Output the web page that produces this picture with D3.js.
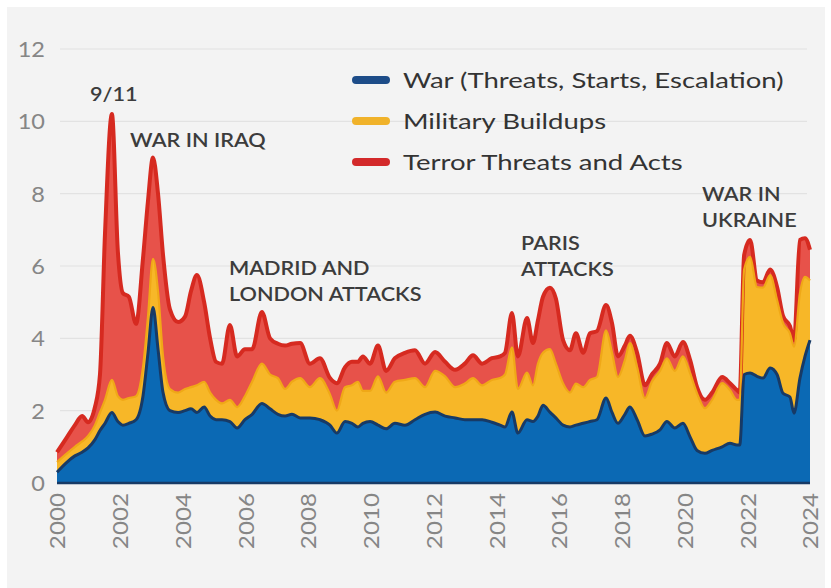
<!DOCTYPE html>
<html>
<head>
<meta charset="utf-8">
<script src="https://cdn.jsdelivr.net/npm/d3@7"></script>
<style>
  html, body { margin: 0; padding: 0; background: #ffffff; }
  svg { display: block; }
</style>
</head>
<body>
<svg id="chart" width="831" height="588"></svg>
<script>
// ---------- DATA ----------
const dates = [
  2000.00, 2000.32, 2000.57, 2000.80, 2000.99, 2001.21, 2001.37, 2001.53, 2001.75, 2001.94,
  2002.10, 2002.29, 2002.52, 2002.74, 2002.90, 2003.06, 2003.22, 2003.38, 2003.60, 2003.86,
  2004.08, 2004.27, 2004.46, 2004.69, 2004.88, 2005.07, 2005.26, 2005.51, 2005.74, 2005.99,
  2006.22, 2006.53, 2006.79, 2007.04, 2007.27, 2007.49, 2007.75, 2008.06, 2008.38, 2008.70,
  2008.92, 2009.18, 2009.40, 2009.59, 2009.75, 2009.98, 2010.23, 2010.49, 2010.77, 2011.09,
  2011.41, 2011.73, 2012.05, 2012.37, 2012.69, 2013.00, 2013.26, 2013.55, 2013.86, 2014.12,
  2014.28, 2014.50, 2014.69, 2014.98, 2015.17, 2015.33, 2015.49, 2015.71, 2015.90, 2016.13,
  2016.35, 2016.54, 2016.77, 2016.99, 2017.21, 2017.50, 2017.69, 2017.88, 2018.10, 2018.26,
  2018.49, 2018.74, 2018.96, 2019.22, 2019.44, 2019.69, 2019.95, 2020.18, 2020.40, 2020.65,
  2020.88, 2021.20, 2021.45, 2021.67, 2021.76, 2021.90, 2022.09, 2022.31, 2022.50, 2022.73,
  2022.95, 2023.14, 2023.36, 2023.49, 2023.68, 2023.84, 2024.00
];
const war = [
  0.30, 0.58, 0.75, 0.85, 0.97, 1.20, 1.45, 1.65, 1.95, 1.70,
  1.60, 1.65, 1.75, 2.40, 3.60, 4.85, 3.70, 2.50, 2.00, 1.95,
  2.00, 2.05, 1.95, 2.10, 1.85, 1.75, 1.75, 1.70, 1.52, 1.75,
  1.90, 2.20, 2.05, 1.90, 1.85, 1.90, 1.80, 1.80, 1.75, 1.60,
  1.38, 1.70, 1.65, 1.55, 1.65, 1.70, 1.60, 1.50, 1.65, 1.60,
  1.75, 1.90, 1.96, 1.85, 1.80, 1.75, 1.75, 1.75, 1.68, 1.60,
  1.55, 1.96, 1.38, 1.75, 1.70, 1.85, 2.15, 1.96, 1.80, 1.60,
  1.55, 1.60, 1.65, 1.70, 1.75, 2.35, 1.95, 1.65, 1.90, 2.10,
  1.75, 1.30, 1.35, 1.47, 1.70, 1.52, 1.65, 1.27, 0.90, 0.82,
  0.90, 1.00, 1.10, 1.05, 1.05, 3.00, 3.04, 2.95, 2.90, 3.18,
  3.00, 2.48, 2.38, 1.93, 2.90, 3.50, 3.95
];
const military = [
  0.28, 0.24, 0.25, 0.30, 0.33, 0.40, 0.50, 0.65, 0.90, 0.70,
  0.70, 0.70, 0.65, 0.80, 1.00, 1.35, 1.60, 1.00, 0.60, 0.55,
  0.60, 0.60, 0.75, 0.70, 0.65, 0.55, 0.45, 0.60, 0.58, 0.65,
  0.90, 1.10, 0.95, 1.00, 0.75, 0.90, 1.10, 0.85, 1.15, 0.85,
  0.62, 0.95, 1.05, 1.25, 0.90, 0.85, 1.35, 1.00, 1.15, 1.25,
  1.15, 0.75, 1.14, 1.10, 0.85, 1.00, 1.15, 0.95, 1.17, 1.30,
  1.45, 1.79, 1.22, 1.30, 1.00, 1.45, 1.45, 1.74, 1.50, 1.15,
  0.95, 1.15, 1.00, 1.15, 1.18, 1.87, 1.65, 1.28, 1.50, 1.77,
  1.45, 1.05, 1.45, 1.63, 1.75, 1.58, 1.85, 1.76, 1.58, 1.25,
  1.40, 1.76, 1.47, 1.25, 1.25, 2.90, 3.21, 2.47, 2.50, 2.57,
  2.06, 1.94, 1.76, 1.84, 2.35, 2.20, 1.65
];
const terror = [
  0.27, 0.45, 0.60, 0.70, 0.38, 0.50, 1.05, 4.60, 7.35, 4.00,
  2.95, 2.80, 2.00, 3.00, 3.20, 2.80, 2.70, 2.80, 2.20, 1.95,
  2.00, 2.65, 3.05, 2.20, 1.50, 1.05, 1.10, 2.07, 1.40, 1.30,
  0.90, 1.43, 1.00, 0.95, 1.20, 1.05, 0.97, 0.65, 0.55, 0.45,
  0.76, 0.55, 0.65, 0.55, 0.95, 0.75, 0.85, 0.60, 0.65, 0.75,
  0.77, 0.65, 0.52, 0.40, 0.48, 0.55, 0.63, 0.60, 0.60, 0.60,
  0.60, 0.95, 0.90, 1.51, 1.17, 1.20, 1.55, 1.70, 1.80, 1.20,
  1.17, 1.39, 0.95, 1.29, 1.27, 0.70, 0.82, 0.57, 0.40, 0.20,
  0.40, 0.35, 0.20, 0.20, 0.42, 0.40, 0.40, 0.37, 0.17, 0.23,
  0.20, 0.17, 0.19, 0.27, 0.20, 0.40, 0.47, 0.18, 0.15, 0.15,
  0.36, 0.20, 0.20, 0.18, 1.47, 1.07, 0.85
];
const seriesKeys = ["war", "military", "terror"];
const seriesNames = ["War (Threats, Starts, Escalation)", "Military Buildups", "Terror Threats and Acts"];
const yearTicks = [2000, 2002, 2004, 2006, 2008, 2010, 2012, 2014, 2016, 2018, 2020, 2022, 2024];
const valueTicks = [0, 2, 4, 6, 8, 10, 12];
const annotationLines = [["9/11"], ["WAR IN IRAQ"], ["MADRID AND", "LONDON ATTACKS"], ["PARIS", "ATTACKS"], ["WAR IN", "UKRAINE"]];
const annotationYears = [2001.05, 2002.33, 2005.48, 2014.79, 2020.56];
const annotationValues = [10.75, 9.48, 5.94, 6.61, 7.99];

// ---------- STYLE ----------
const fills = { war: "#0b69b4", military: "#f7b728", terror: "#e7524a" };
const strokes = { war: "#173a66", military: "#f0a817", terror: "#d62a20" };
const legendColors = { war: "#1d4c88", military: "#f0b22a", terror: "#d3292a" };
const font = "Lato, 'Open Sans', 'DejaVu Sans', sans-serif";

// horizontal widening of text, like the reference's wide lettering
function widen(sel, k) {
  sel.each(function () {
    const w = this.getComputedTextLength();
    d3.select(this).attr("textLength", w * k).attr("lengthAdjust", "spacingAndGlyphs");
  });
}

// ---------- BUILD ----------
const rows = dates.map((d, i) => ({ date: d, war: war[i], military: military[i], terror: terror[i] }));
const svg = d3.select("#chart");

svg.append("rect").attr("x", 7).attr("y", 7).attr("width", 818).attr("height", 581).attr("fill", "#f3f3f3");

const x = d3.scaleLinear().domain([2000, 2024]).range([57, 810]);
const y = d3.scaleLinear().domain([0, 12]).range([483, 49]);

// grid
svg.append("g").selectAll("line").data(valueTicks.filter(v => v > 0)).join("line")
  .attr("x1", x(2000) + 3).attr("x2", x(2024) - 3)
  .attr("y1", d => y(d)).attr("y2", d => y(d))
  .attr("stroke", "#e2e2e2").attr("stroke-width", 1.2);

// y axis
const yAxis = d3.axisLeft(y).tickValues(valueTicks).tickSize(0).tickPadding(0).tickFormat(d3.format("d"));
const gy = svg.append("g").attr("transform", "translate(45,0)").call(yAxis);
gy.select(".domain").remove();
gy.selectAll("text").attr("font-family", font).attr("font-size", 21).attr("fill", "#868686").attr("dy", "0.36em");
widen(gy.selectAll("text"), 1.12);

// x axis
const xAxis = d3.axisBottom(x).tickValues(yearTicks).tickSize(0).tickPadding(0).tickFormat(d3.format("d"));
const gx = svg.append("g").attr("transform", "translate(0,493)").call(xAxis);
gx.select(".domain").remove();
gx.selectAll("text")
  .attr("font-family", font).attr("font-size", 22).attr("fill", "#868686")
  .attr("transform", "rotate(-90)")
  .attr("text-anchor", "end").attr("x", 0).attr("y", 0).attr("dy", "0.36em");
widen(gx.selectAll("text"), 1.1);

// stack
const stack = d3.stack().keys(seriesKeys);
const layers = stack(rows);

const area = d3.area().curve(d3.curveMonotoneX)
  .x(d => x(d.data.date)).y0(d => y(d[0])).y1(d => y(d[1]));
const topLine = d3.line().curve(d3.curveMonotoneX)
  .x(d => x(d.data.date)).y(d => y(d[1]));

svg.append("g").selectAll("path").data(layers).join("path")
  .attr("d", area).attr("fill", d => fills[d.key]);

const lineOrder = [layers[2], layers[1], layers[0]];
svg.append("g").selectAll("path").data(lineOrder).join("path")
  .attr("d", topLine).attr("fill", "none")
  .attr("stroke", d => strokes[d.key])
  .attr("stroke-width", d => d.key === "terror" ? 4 : (d.key === "war" ? 3 : 2.2))
  .attr("stroke-linejoin", "round");

// baseline
svg.append("line").attr("x1", x(2000)).attr("x2", x(2024)).attr("y1", y(0)).attr("y2", y(0))
  .attr("stroke", "#173a66").attr("stroke-width", 2.5);

// legend
const legend = svg.append("g").attr("transform", "translate(352,80)");
seriesKeys.forEach((k, i) => {
  const g = legend.append("g").attr("transform", `translate(0,${i * 41})`);
  g.append("line").attr("x1", 4).attr("x2", 34).attr("y1", 0).attr("y2", 0)
    .attr("stroke", legendColors[k]).attr("stroke-width", 8).attr("stroke-linecap", "round");
  const t = g.append("text").attr("x", 51).attr("y", 0).attr("dy", "0.36em")
    .attr("font-family", font).attr("font-size", 21.5).attr("fill", "#333333")
    .text(seriesNames[i]);
  widen(t, 1.28);
});

// annotations
const ann = svg.append("g");
annotationLines.forEach((lines, i) => {
  const t = ann.append("text")
    .attr("x", x(annotationYears[i])).attr("y", y(annotationValues[i]))
    .attr("font-family", font).attr("font-size", 18.5).attr("font-weight", 600)
    .attr("fill", "#3c3c3c");
  lines.forEach((ln, j) => {
    const s = t.append("tspan").attr("x", x(annotationYears[i])).attr("y", y(annotationValues[i]) + j * 26)
      .attr("dy", "0.35em").text(ln);
    widen(s, 1.17);
  });
});
</script>
</body>
</html>
